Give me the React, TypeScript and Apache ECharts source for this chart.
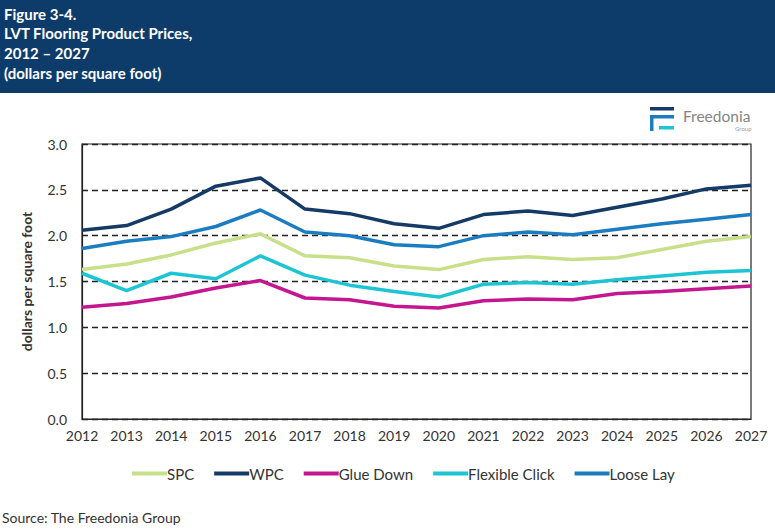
import React, { useEffect, useRef } from "react";
import * as echarts from "echarts";

const years = ["2012","2013","2014","2015","2016","2017","2018","2019","2020","2021","2022","2023","2024","2025","2026","2027"];
const spc = [1.63,1.69,1.79,1.92,2.02,1.78,1.76,1.67,1.63,1.74,1.77,1.74,1.76,1.85,1.94,1.99];
const wpc = [2.06,2.11,2.29,2.54,2.63,2.29,2.24,2.13,2.08,2.23,2.27,2.22,2.31,2.40,2.51,2.55];
const glueDown = [1.22,1.26,1.33,1.43,1.51,1.32,1.30,1.23,1.21,1.29,1.31,1.30,1.37,1.39,1.42,1.45];
const flexibleClick = [1.59,1.40,1.59,1.53,1.78,1.57,1.46,1.39,1.33,1.47,1.49,1.47,1.52,1.56,1.60,1.62];
const looseLay = [1.86,1.94,1.99,2.10,2.28,2.04,2.00,1.90,1.88,2.00,2.04,2.01,2.07,2.13,2.18,2.23];
const seriesNames = ["SPC","WPC","Glue Down","Flexible Click","Loose Lay"];
const seriesColors = ["#C8E08A","#153A66","#C4168E","#1CC4D4","#1B7DC0"];
const headerLines = ["Figure 3-4.","LVT Flooring Product Prices,","2012 \u2013 2027","(dollars per square foot)"];

const FONT = "Lato";

export default function App() {
  const ref = useRef<HTMLDivElement>(null);
  useEffect(() => {
    document.body.style.margin = "0";
    const chart = echarts.init(ref.current!, null, { renderer: "svg" });
    const data = [spc, wpc, glueDown, flexibleClick, looseLay];
    chart.setOption({
      animation: false,
      backgroundColor: "#ffffff",
      textStyle: { fontFamily: FONT },
      grid: { left: 82, right: 24, top: 144, bottom: 111, show: true, borderColor: "#222", borderWidth: 1.2, backgroundColor: "transparent" },
      xAxis: {
        type: "category",
        data: years,
        boundaryGap: false,
        axisLine: { show: true, lineStyle: { color: "#222", width: 1.2 } },
        axisTick: { show: false },
        axisLabel: { color: "#333", fontSize: 14, fontFamily: FONT, margin: 9 },
        splitLine: { show: false },
      },
      yAxis: {
        type: "value",
        min: 0,
        max: 3,
        interval: 0.5,
        name: "dollars per square foot",
        nameLocation: "middle",
        nameGap: 49,
        nameTextStyle: { color: "#333", fontSize: 14, fontWeight: "bold", fontFamily: FONT },
        axisLine: { show: true, lineStyle: { color: "#222", width: 1.2 } },
        axisTick: { show: false },
        axisLabel: { color: "#333", fontSize: 14, fontFamily: FONT, margin: 15, formatter: (v: number) => v.toFixed(1) },
        splitLine: { show: true, lineStyle: { color: "#222", type: [6, 4], width: 1.3 } },
      },
      legend: {
        data: seriesNames,
        top: 461,
        left: 127,
        itemWidth: 35,
        itemHeight: 4,
        itemGap: 20,
        icon: "rect",
        textStyle: { color: "#333", fontSize: 15, fontFamily: FONT, padding: [0, 0, 0, -5] },
      },
      series: seriesNames.map((n, i) => ({
        name: n,
        type: "line",
        data: data[i],
        symbol: "none",
        lineStyle: { color: seriesColors[i], width: 3.5 },
        itemStyle: { color: seriesColors[i] },
        z: 5 - i,
      })),
      graphic: [
        { type: "rect", left: 0, top: 0, shape: { width: 775, height: 93 }, style: { fill: "#0D3C6B" } },
        ...headerLines.map((t, i) => ({
          type: "text", left: 4, top: 6 + i * 19.7,
          style: { text: t, fill: "#ffffff", font: `bold 15px ${FONT}` },
        })),
        { type: "rect", shape: { x: 650, y: 107, width: 24, height: 3.5 }, style: { fill: "#153A66" } },
        { type: "rect", shape: { x: 650, y: 115, width: 24, height: 3.5 }, style: { fill: "#1B7DC0" } },
        { type: "rect", shape: { x: 650, y: 115, width: 3.5, height: 16 }, style: { fill: "#1B7DC0" } },
        { type: "rect", shape: { x: 659, y: 126, width: 15, height: 3.5 }, style: { fill: "#1CC4D4" } },
        { type: "text", left: 683, top: 108, style: { text: "Freedonia", fill: "#858585", font: `15.5px ${FONT}` } },
        { type: "text", left: 735, top: 125, style: { text: "Group", fill: "#9a9a9a", font: `6px ${FONT}` } },
        { type: "text", left: 2, top: 510, style: { text: "Source: The Freedonia Group", fill: "#333", font: `14px ${FONT}` } },
      ],
    });
    return () => chart.dispose();
  }, []);
  return <div ref={ref} style={{ width: 775, height: 530 }} />;
}
